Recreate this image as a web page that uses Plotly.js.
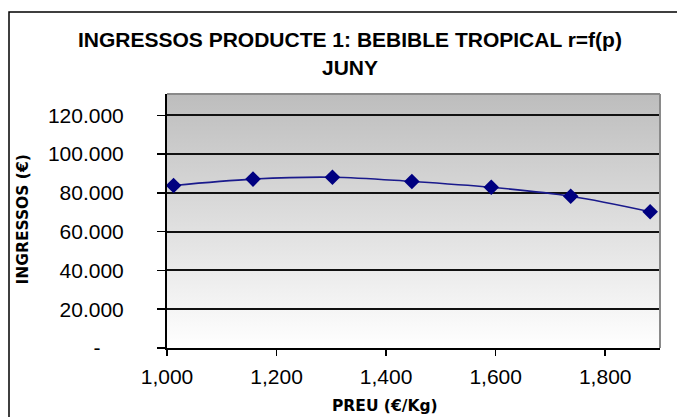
<!DOCTYPE html>
<html>
<head>
<meta charset="utf-8">
<script src="https://cdn.plot.ly/plotly-3.0.1.min.js"></script>
<style>
  html, body { margin: 0; padding: 0; background: #fff; }
  #chart { width: 677px; height: 417px; }
</style>
</head>
<body>
<div id="chart"></div>
<script>
// Data
const preu = [1012, 1157, 1302, 1447, 1592, 1737, 1882];
const ingressos = [83800, 87100, 88100, 85900, 82900, 78300, 70300];

const xTickVals = [1000, 1200, 1400, 1600, 1800];
const xTickText = ['1,000', '1,200', '1,400', '1,600', '1,800'];
const yTickVals = [0, 20000, 40000, 60000, 80000, 100000, 120000];
const yTickText = ['-\u00a0\u00a0\u00a0\u00a0', '20.000', '40.000', '60.000', '80.000', '100.000', '120.000'];

const titleLine1 = 'INGRESSOS PRODUCTE 1: BEBIBLE TROPICAL r=f(p)';
const titleLine2 = 'JUNY';
const xTitle = 'PREU (€/Kg)';
const yTitle = 'INGRESSOS (€)';

const gradSvg = "<svg xmlns='http://www.w3.org/2000/svg' width='10' height='100' preserveAspectRatio='none'>" +
  "<defs><linearGradient id='g' x1='0' y1='0' x2='0' y2='1'>" +
  "<stop offset='0' stop-color='#bdbdbd'/><stop offset='1' stop-color='#ffffff'/>" +
  "</linearGradient></defs><rect width='10' height='100' fill='url(#g)'/></svg>";
const gradUri = 'data:image/svg+xml;charset=utf-8,' + encodeURIComponent(gradSvg);

const tickFont = { family: 'Liberation Sans, Arial, sans-serif', size: 21, color: '#000' };
const titleFont = { family: 'Liberation Sans, Arial, sans-serif', size: 21, color: '#000', weight: 'bold' };
const axisTitleFont = { family: 'DejaVu Sans, sans-serif', size: 15.5, color: '#000', weight: 'bold' };

// pixel -> paper helpers for the fixed 677x417 frame
const L = 167, R = 660, T = 94, B = 348;
const px = v => (v - L) / (R - L);
const py = v => (B - v) / (B - T);

const trace = {
  x: preu,
  y: ingressos,
  type: 'scatter',
  mode: 'lines+markers',
  line: { color: '#1a1a8c', width: 1.6, shape: 'spline', smoothing: 1 },
  marker: { symbol: 'diamond', size: 12, color: '#000080' },
  hoverinfo: 'x+y',
  showlegend: false
};

const layout = {
  width: 677,
  height: 417,
  margin: { l: L, r: 677 - R, t: T, b: 417 - B, pad: 0 },
  paper_bgcolor: '#ffffff',
  plot_bgcolor: 'rgba(0,0,0,0)',
  xaxis: {
    range: [1000, 1900],
    tickvals: xTickVals,
    ticktext: xTickText,
    tickfont: tickFont,
    ticks: 'outside', ticklen: 6, tickwidth: 1.5, tickcolor: '#000',
    ticklabelstandoff: 3,
    showgrid: false,
    showline: true, linecolor: '#000', linewidth: 2,
    zeroline: false,
    fixedrange: true
  },
  yaxis: {
    range: [0, 131000],
    tickvals: yTickVals,
    ticktext: yTickText,
    tickfont: tickFont,
    ticks: 'outside', ticklen: 8, tickwidth: 1.5, tickcolor: '#000',
    ticklabelstandoff: 29,
    showgrid: true, gridcolor: '#111', gridwidth: 2,
    showline: true, linecolor: '#000', linewidth: 2,
    zeroline: false,
    fixedrange: true
  },
  images: [{
    source: gradUri,
    xref: 'paper', yref: 'paper',
    x: 0, y: 1, sizex: 1, sizey: 1,
    xanchor: 'left', yanchor: 'top',
    sizing: 'stretch', layer: 'below'
  }],
  shapes: [
    { type: 'line', xref: 'paper', yref: 'paper', x0: 0, x1: 1, y0: 1, y1: 1, line: { color: '#8a8a8a', width: 2 } },
    { type: 'line', xref: 'paper', yref: 'paper', x0: 1, x1: 1, y0: 0, y1: 1, line: { color: '#8a8a8a', width: 2 } },
    { type: 'rect', xref: 'paper', yref: 'paper',
      x0: px(9), x1: px(700), y0: py(440), y1: py(12),
      line: { color: '#000', width: 1.5 }, fillcolor: 'rgba(0,0,0,0)' }
  ],
  annotations: [
    { text: titleLine1, xref: 'paper', yref: 'paper', x: px(350), y: py(40),
      xanchor: 'center', yanchor: 'middle', showarrow: false, font: titleFont },
    { text: titleLine2, xref: 'paper', yref: 'paper', x: px(350), y: py(68),
      xanchor: 'center', yanchor: 'middle', showarrow: false, font: titleFont },
    { text: xTitle, xref: 'paper', yref: 'paper', x: px(385), y: py(406),
      xanchor: 'center', yanchor: 'middle', showarrow: false, font: axisTitleFont },
    { text: yTitle, xref: 'paper', yref: 'paper', x: px(22.5), y: py(220),
      xanchor: 'center', yanchor: 'middle', showarrow: false, textangle: -90, font: axisTitleFont }
  ]
};

Plotly.newPlot('chart', [trace], layout, { staticPlot: true, displayModeBar: false });
</script>
</body>
</html>
